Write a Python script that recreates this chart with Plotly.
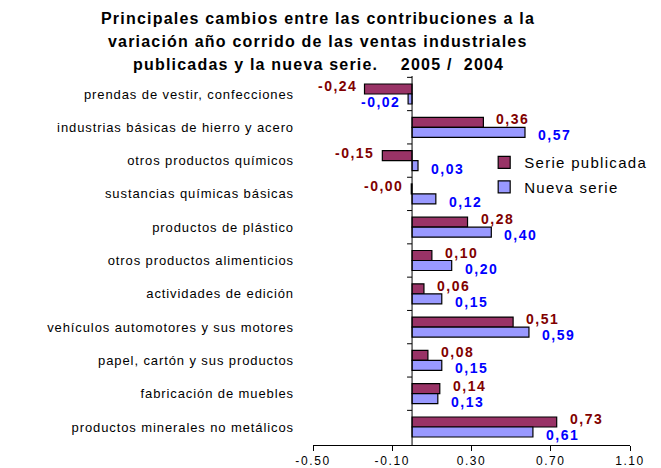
import plotly.graph_objects as go

categories = [
    "prendas de vestir, confecciones",
    "industrias básicas de hierro y acero",
    "otros productos químicos",
    "sustancias químicas básicas",
    "productos de plástico",
    "otros productos alimenticios",
    "actividades de edición",
    "vehículos automotores y sus motores",
    "papel, cartón y sus productos",
    "fabricación de muebles",
    "productos minerales no metálicos",
]
serie_publicada = [-0.24, 0.36, -0.15, -0.004, 0.28, 0.10, 0.06, 0.51, 0.08, 0.14, 0.73]
nueva_serie = [-0.02, 0.57, 0.03, 0.12, 0.40, 0.20, 0.15, 0.59, 0.15, 0.13, 0.61]
x_tickvals = [-0.50, -0.10, 0.30, 0.70, 1.10]
x_ticktext = ["-0.50", "-0.10", "0.30", "0.70", "1.10"]
title_lines = [
    "Principales cambios entre las contribuciones a la",
    "variación año corrido de las ventas industriales",
    "publicadas y la nueva serie.&nbsp;&nbsp;&nbsp; 2005 /&nbsp; 2004",
]

FONT = "Liberation Sans, Arial, sans-serif"
C_PUB = "#993366"
C_NEW = "#9999FF"
T_PUB = "#800000"
T_NEW = "#0000FF"


def sp(text, ls):
    return f'<span style="letter-spacing:{ls}px">{text}</span>'


def fmt(v):
    return f"{v:.2f}".replace(".", ",")


fig = go.Figure()
fig.add_trace(go.Bar(
    y=categories, x=serie_publicada, orientation="h", name=sp("Serie publicada", 1.3),
    legendgroup="a",
    marker=dict(color=C_PUB, line=dict(color="black", width=1.2)),
))
fig.add_trace(go.Bar(
    y=categories, x=nueva_serie, orientation="h", name=sp("Nueva serie", 1.3),
    legendgroup="b",
    marker=dict(color=C_NEW, line=dict(color="black", width=1.2)),
))

annotations = []
for series, color, yshift in ((serie_publicada, T_PUB, 8), (nueva_serie, T_NEW, -8)):
    for cat, v in zip(categories, series):
        pos = v >= 0
        annotations.append(dict(
            x=v, y=cat, xref="x", yref="y", text=sp(f"<b>{fmt(v)}</b>", 1.5),
            showarrow=False,
            xanchor="left" if pos else "right",
            xshift=11 if pos else -6, yshift=yshift,
            font=dict(family=FONT, size=14, color=color),
        ))

for line, ysh in zip(title_lines, (58, 35, 12)):
    annotations.append(dict(
        x=0.016, y=1.0, xref="paper", yref="paper", yanchor="middle", xanchor="center",
        yshift=ysh, showarrow=False,
        text=sp(f"<b>{line}</b>", 1.2),
        font=dict(family=FONT, size=16, color="black"),
    ))

shapes = [dict(type="line", xref="x", yref="paper", x0=0, x1=0, y0=0, y1=1,
               layer="above", line=dict(color="black", width=1))]
for i in range(len(categories)):
    shapes.append(dict(type="line", xref="x", yref="y", xsizemode="pixel", xanchor=0,
                       x0=-5, x1=0, y0=i - 0.5, y1=i - 0.5, layer="above",
                       line=dict(color="black", width=1)))

# page body has an 8px margin; figure geometry compensates so the plot lands where the reference has it
fig.update_layout(
    width=661, height=460,
    margin=dict(l=305, r=39, t=68, b=23),
    paper_bgcolor="white", plot_bgcolor="white",
    barmode="group", bargap=0.4, bargroupgap=0,
    font=dict(family=FONT, size=13, color="black"),
    showlegend=True,
    legend=dict(x=0.54, y=0.81, xanchor="left", yanchor="top",
                traceorder="grouped", tracegroupgap=2, bgcolor="rgba(0,0,0,0)",
                font=dict(family=FONT, size=15, color="black")),
    annotations=annotations,
    shapes=shapes,
)
fig.update_xaxes(range=[-0.5, 1.1], tickvals=x_tickvals,
                 ticktext=[sp(t, 1.6) for t in x_ticktext],
                 showgrid=False, zeroline=False, showline=True, linecolor="black",
                 linewidth=1, ticks="outside", ticklen=5, tickcolor="black",
                 tickfont=dict(family=FONT, size=12), automargin=False)
fig.update_yaxes(autorange="reversed", showgrid=False, zeroline=False, showline=False,
                 ticks="", ticklabelstandoff=18,
                 tickmode="array", tickvals=categories,
                 ticktext=[sp(c, 0.9) for c in categories],
                 tickfont=dict(family=FONT, size=13), automargin=False)

fig.write_html("out.html")
